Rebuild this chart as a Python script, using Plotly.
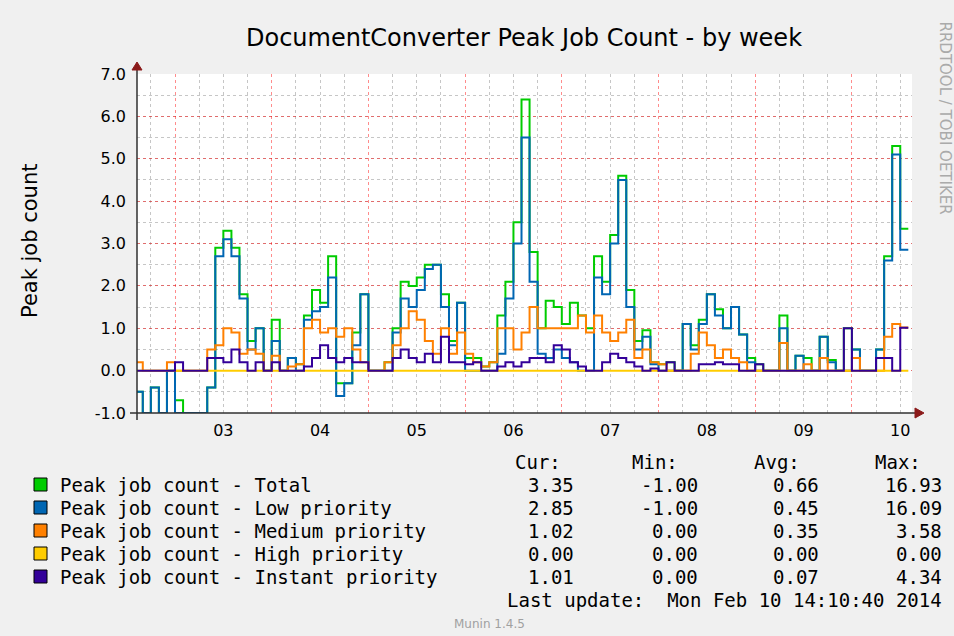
import plotly.graph_objects as go
from datetime import datetime, timedelta

# ---------------- data (2-hour buckets starting 2014-02-02 14:00) ----------------
start_time = "2014-02-02 14:00"
step_hours = 2

total = [
    -0.5, -1.0, -0.4, -1.0, 0.0, -0.7, -1.0, -1.0, -1.0, -0.4, 2.9, 3.3,
    2.9, 1.8, 0.7, 1.0, 0.0, 1.2, 0.0, 0.3, 0.15, 1.3, 1.9, 1.6,
    2.7, -0.3, -0.3, 0.9, 1.8, 0.0, 0.0, 0.2, 1.0, 2.1, 2.0, 2.2,
    2.5, 2.5, 1.8, 0.7, 1.6, 0.3, 0.3, 0.1, 0.2, 1.3, 2.1, 3.5,
    6.4, 2.8, 1.0, 1.65, 1.5, 1.1, 1.6, 1.3, 1.0, 2.7, 2.1, 3.2,
    4.6, 1.9, 0.7, 0.95, 0.2, 0.15, 0.2, 0.0, 1.1, 0.6, 1.2, 1.8,
    1.45, 1.0, 1.5, 0.85, 0.3, 0.15, 0.0, 0.0, 1.3, 0.0, 0.35, 0.3,
    0.0, 0.8, 0.25, 0.0, 1.0, 0.5, 0.0, 0.0, 0.5, 2.7, 5.3, 3.35,
]
low = [
    -0.5, -1.0, -0.4, -1.0, 0.0, -1.0, -1.0, -1.0, -1.0, -0.4, 2.7, 3.1,
    2.7, 1.7, 0.5, 1.0, 0.0, 0.7, 0.0, 0.3, 0.0, 1.2, 1.4, 1.5,
    2.2, -0.6, -0.3, 0.6, 1.8, 0.0, 0.0, 0.0, 0.9, 1.7, 1.5, 1.9,
    2.4, 2.5, 1.5, 0.6, 1.6, 0.0, 0.0, 0.0, 0.0, 0.4, 1.7, 3.0,
    5.5, 2.1, 0.4, 0.3, 0.5, 0.3, 0.2, 0.0, 0.0, 2.2, 1.8, 3.0,
    4.5, 1.5, 0.5, 0.8, 0.15, 0.0, 0.0, 0.0, 1.1, 0.5, 1.1, 1.8,
    1.3, 1.0, 1.5, 0.85, 0.2, 0.0, 0.0, 0.0, 1.0, 0.0, 0.35, 0.0,
    0.0, 0.8, 0.2, 0.0, 0.0, 0.5, 0.0, 0.0, 0.5, 2.6, 5.1, 2.85,
]
medium = [
    0.2, 0.0, 0.0, 0.0, 0.2, 0.0, 0.0, 0.0, 0.0, 0.5, 0.6, 1.0,
    0.9, 0.4, 0.5, 0.4, 0.0, 0.35, 0.0, 0.1, 0.15, 1.0, 1.2, 0.9,
    1.0, 0.8, 1.0, 0.5, 0.2, 0.0, 0.0, 0.2, 0.6, 1.0, 1.4, 1.2,
    0.7, 0.4, 1.0, 0.4, 0.9, 0.4, 0.2, 0.1, 0.2, 1.0, 1.0, 0.5,
    0.9, 1.5, 1.0, 1.0, 1.0, 1.0, 1.0, 1.3, 0.9, 1.3, 0.9, 0.7,
    0.9, 1.2, 0.3, 0.5, 0.2, 0.15, 0.0, 0.0, 0.0, 0.4, 0.9, 0.6,
    0.3, 0.5, 0.3, 0.2, 0.0, 0.0, 0.0, 0.0, 0.65, 0.0, 0.0, 0.15,
    0.0, 0.3, 0.0, 0.0, 0.0, 0.3, 0.0, 0.0, 0.0, 0.8, 1.1, 1.02,
]
high = [
    0.0, 0.0, 0.0, 0.0, 0.0, 0.0, 0.0, 0.0, 0.0, 0.0, 0.0, 0.0,
    0.0, 0.0, 0.0, 0.0, 0.0, 0.0, 0.0, 0.0, 0.0, 0.0, 0.0, 0.0,
    0.0, 0.0, 0.0, 0.0, 0.0, 0.0, 0.0, 0.0, 0.0, 0.0, 0.0, 0.0,
    0.0, 0.0, 0.0, 0.0, 0.0, 0.0, 0.0, 0.0, 0.0, 0.0, 0.0, 0.0,
    0.0, 0.0, 0.0, 0.0, 0.0, 0.0, 0.0, 0.0, 0.0, 0.0, 0.0, 0.0,
    0.0, 0.0, 0.0, 0.0, 0.0, 0.0, 0.0, 0.0, 0.0, 0.0, 0.0, 0.0,
    0.0, 0.0, 0.0, 0.0, 0.0, 0.0, 0.0, 0.0, 0.0, 0.0, 0.0, 0.0,
    0.0, 0.0, 0.0, 0.0, 0.0, 0.0, 0.0, 0.0, 0.0, 0.0, 0.0, 0.0,
]
instant = [
    0.0, 0.0, 0.0, 0.0, 0.0, 0.2, 0.0, 0.0, 0.0, 0.3, 0.3, 0.2,
    0.5, 0.2, 0.0, 0.2, 0.0, 0.2, 0.0, 0.0, 0.0, 0.1, 0.3, 0.6,
    0.3, 0.2, 0.3, 0.2, 0.2, 0.0, 0.0, 0.0, 0.3, 0.5, 0.3, 0.2,
    0.4, 0.2, 0.8, 0.2, 0.2, 0.15, 0.2, 0.0, 0.0, 0.1, 0.2, 0.1,
    0.2, 0.3, 0.3, 0.2, 0.6, 0.5, 0.2, 0.1, 0.0, 0.0, 0.2, 0.4,
    0.3, 0.2, 0.1, 0.0, 0.05, 0.0, 0.2, 0.0, 0.0, 0.0, 0.15, 0.15,
    0.2, 0.15, 0.15, 0.0, 0.0, 0.15, 0.0, 0.0, 0.0, 0.0, 0.0, 0.0,
    0.0, 0.0, 0.0, 0.0, 1.0, 0.0, 0.0, 0.0, 0.3, 0.3, 0.0, 1.01,
]

series_names = [
    "Peak job count - Total",
    "Peak job count - Low priority",
    "Peak job count - Medium priority",
    "Peak job count - High priority",
    "Peak job count - Instant priority",
]
series_colors = ["#00CC00", "#0066B3", "#FF8000", "#FFCC00", "#330099"]
stat_cur = [3.35, 2.85, 1.02, 0.00, 1.01]
stat_min = [-1.00, -1.00, 0.00, 0.00, 0.00]
stat_avg = [0.66, 0.45, 0.35, 0.00, 0.07]
stat_max = [16.93, 16.09, 3.58, 0.00, 4.34]

y_tickvals = [-1, 0, 1, 2, 3, 4, 5, 6, 7]
y_ticktext = ["-1.0", "0.0", "1.0", "2.0", "3.0", "4.0", "5.0", "6.0", "7.0"]

title_text = "DocumentConverter Peak Job Count - by week"
y_title = "Peak job count"
last_update = "Last update:  Mon Feb 10 14:10:40 2014"
x_range = ["2014-02-02 14:34", "2014-02-10 14:55"]
y_range = [-1.0, 7.0]

# ---------------- layout geometry ----------------
W, H = 954, 636
L, R, T, B = 137, 42, 74, 223
PW, PH = W - L - R, H - T - B


def px(x):
    return (x - L) / PW


def py(y):
    return (H - B - y) / PH


t0 = datetime.strptime(start_time, "%Y-%m-%d %H:%M")
n = len(low)
times = [t0 + timedelta(hours=step_hours * i) for i in range(n + 1)]

fig = go.Figure()
all_series = [total, low, medium, high, instant]
for name, color, vals in zip(series_names, series_colors, all_series):
    fig.add_trace(go.Scatter(
        x=times, y=vals + [vals[-1]], mode="lines", name=name,
        line=dict(color=color, width=2, shape="hv"),
        showlegend=False, hoverinfo="skip",
    ))

font_main = "DejaVu Sans, Verdana, sans-serif"
font_mono = "DejaVu Sans Mono, monospace"
mono_size = 19

fig.update_layout(
    width=W, height=H,
    margin=dict(l=L, r=R, t=T, b=B),
    paper_bgcolor="#F0F0F0",
    plot_bgcolor="#FFFFFF",
    title=dict(text=title_text, x=524 / W, xanchor="center",
               y=1 - 38 / H, yanchor="middle",
               font=dict(family=font_main, size=24, color="#000000")),
    xaxis=dict(
        type="date", range=x_range,
        tick0="2014-02-03", dtick=86400000, tickformat="%d",
        ticklabelmode="period",
        showgrid=True, gridcolor="rgba(255,0,0,0.45)", griddash="dot", gridwidth=1,
        minor=dict(dtick=6 * 3600000, tick0="2014-02-03", showgrid=True,
                   gridcolor="rgba(128,128,128,0.45)", griddash="dot", gridwidth=1),
        showline=False, zeroline=False, ticks="",
        ticklabelstandoff=6,
        tickfont=dict(family=font_main, size=16, color="#000000"),
    ),
    yaxis=dict(
        range=y_range, tickvals=y_tickvals, ticktext=y_ticktext,
        showgrid=True, gridcolor="rgba(255,0,0,0.45)", griddash="dot", gridwidth=1,
        minor=dict(dtick=0.5, tick0=0, showgrid=True,
                   gridcolor="rgba(128,128,128,0.45)", griddash="dot", gridwidth=1),
        showline=False, zeroline=False, ticks="",
        ticklabelstandoff=10,
        tickfont=dict(family=font_main, size=16, color="#000000"),
    ),
)

shapes = []
axis_col = "#303030"
arrow_col = "#8B1A1A"
shapes.append(dict(type="line", xref="paper", yref="paper",
                   x0=px(130), x1=px(916), y0=py(413), y1=py(413),
                   line=dict(color=axis_col, width=1.5), layer="above"))
shapes.append(dict(type="line", xref="paper", yref="paper",
                   x0=px(137), x1=px(137), y0=py(420), y1=py(68),
                   line=dict(color=axis_col, width=1.5), layer="above"))
shapes.append(dict(type="path", xref="paper", yref="paper",
                   path=f"M {px(132)} {py(70)} L {px(142)} {py(70)} L {px(137)} {py(62)} Z",
                   fillcolor=arrow_col, line=dict(color=arrow_col, width=1), layer="above"))
shapes.append(dict(type="path", xref="paper", yref="paper",
                   path=f"M {px(915)} {py(408)} L {px(915)} {py(418)} L {px(924)} {py(413)} Z",
                   fillcolor=arrow_col, line=dict(color=arrow_col, width=1), layer="above"))

annotations = []
annotations.append(dict(text=y_title, xref="paper", yref="paper",
                        x=px(30), y=py(241), textangle=-90, showarrow=False,
                        xanchor="center", yanchor="middle",
                        font=dict(family=font_main, size=21, color="#000000")))
annotations.append(dict(text="RRDTOOL / TOBI OETIKER", xref="paper", yref="paper",
                        x=px(945), y=py(20), textangle=90, showarrow=False,
                        xanchor="center", yanchor="top",
                        font=dict(family=font_main, size=15, color="#AAAAAA")))

headers = ["Cur:", "Min:", "Avg:", "Max:"]
header_x = [513, 630, 752, 873]
value_right = [576, 700, 821, 944]
for htxt, hx in zip(headers, header_x):
    annotations.append(dict(text=htxt, xref="paper", yref="paper",
                            x=px(hx), y=py(462), showarrow=False,
                            xanchor="left", yanchor="middle",
                            font=dict(family=font_mono, size=mono_size, color="#000000")))

row_y = [485, 508, 531, 554, 577]
for i, (name, color) in enumerate(zip(series_names, series_colors)):
    yy = row_y[i]
    shapes.append(dict(type="rect", xref="paper", yref="paper",
                       x0=px(34), x1=px(47), y0=py(yy - 7), y1=py(yy + 6),
                       fillcolor=color, line=dict(color="#000000", width=1),
                       layer="above"))
    annotations.append(dict(text=name, xref="paper", yref="paper",
                            x=px(58), y=py(yy), showarrow=False,
                            xanchor="left", yanchor="middle",
                            font=dict(family=font_mono, size=mono_size, color="#000000")))
    for col, vals in enumerate([stat_cur, stat_min, stat_avg, stat_max]):
        annotations.append(dict(text=f"{vals[i]:.2f}", xref="paper", yref="paper",
                                x=px(value_right[col]), y=py(yy), showarrow=False,
                                xanchor="right", yanchor="middle",
                                font=dict(family=font_mono, size=mono_size, color="#000000")))

annotations.append(dict(text=last_update, xref="paper", yref="paper",
                        x=px(944), y=py(600), showarrow=False,
                        xanchor="right", yanchor="middle",
                        font=dict(family=font_mono, size=mono_size, color="#000000")))
annotations.append(dict(text="Munin 1.4.5", xref="paper", yref="paper",
                        x=px(489), y=py(624), showarrow=False,
                        xanchor="center", yanchor="middle",
                        font=dict(family=font_main, size=12, color="#A0A0A0")))

fig.update_layout(shapes=shapes, annotations=annotations)
fig.write_html("out.html",
               config={"displayModeBar": False},
               post_script="document.body.style.margin='0';document.body.style.overflow='hidden';")
